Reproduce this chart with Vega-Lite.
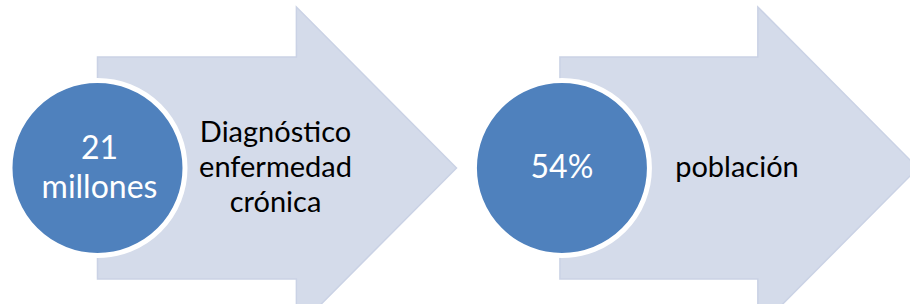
{
  "$schema": "https://vega.github.io/schema/vega-lite/v6.json",
  "width": 910,
  "height": 304,
  "autosize": {"type": "fit", "contains": "padding"},
  "padding": 0,
  "background": "white",
  "config": {"view": {"stroke": null}},
  "datasets": {
    "arrows": [
      {"arrow": "A", "x": 93, "y": 57, "y2": 279},
      {"arrow": "A", "x": 293, "y": 57, "y2": 279},
      {"arrow": "A", "x": 293.01, "y": 7, "y2": 329},
      {"arrow": "A", "x": 454, "y": 168, "y2": 168},
      {"arrow": "B", "x": 558, "y": 57, "y2": 279},
      {"arrow": "B", "x": 757, "y": 57, "y2": 279},
      {"arrow": "B", "x": 757.01, "y": 7, "y2": 329},
      {"arrow": "B", "x": 918, "y": 168, "y2": 168}
    ],
    "circles": [
      {"x": 93, "y": 168},
      {"x": 560, "y": 168}
    ],
    "circleTexts": [
      {"label": "21\nmillones", "x": 95, "y": 149},
      {"label": "54%", "x": 560, "y": 168}
    ],
    "texts": [
      {"label": "Diagnóstico\nenfermedad\ncrónica", "x": 272, "y": 133},
      {"label": "población", "x": 736, "y": 168}
    ]
  },
  "layer": [
    {
      "data": {"name": "arrows"},
      "mark": {"type": "area", "orient": "vertical", "clip": true, "fill": "#D4DBEA", "stroke": "#CAD2E5", "strokeWidth": 1.5, "opacity": 1},
      "encoding": {
        "x": {"field": "x", "type": "quantitative", "scale": {"domain": [0, 910], "nice": false, "zero": false}, "axis": null},
        "y": {"field": "y", "type": "quantitative", "scale": {"domain": [0, 304], "nice": false, "zero": false, "reverse": true}, "axis": null},
        "y2": {"field": "y2"},
        "detail": {"field": "arrow"}
      }
    },
    {
      "data": {"name": "circles"},
      "mark": {"type": "point", "shape": "circle", "filled": true, "fill": "#4F81BD", "stroke": "white", "strokeWidth": 5, "size": 30625, "opacity": 1},
      "encoding": {
        "x": {"field": "x", "type": "quantitative"},
        "y": {"field": "y", "type": "quantitative"}
      }
    },
    {
      "data": {"name": "circleTexts"},
      "mark": {"type": "text", "font": "Lato", "fontSize": 32, "color": "white", "lineBreak": "\n", "lineHeight": 39, "align": "center", "baseline": "middle"},
      "encoding": {
        "x": {"field": "x", "type": "quantitative"},
        "y": {"field": "y", "type": "quantitative"},
        "text": {"field": "label"}
      }
    },
    {
      "data": {"name": "texts"},
      "mark": {"type": "text", "font": "Lato", "fontSize": 29, "color": "black", "lineBreak": "\n", "lineHeight": 35, "align": "center", "baseline": "middle"},
      "encoding": {
        "x": {"field": "x", "type": "quantitative"},
        "y": {"field": "y", "type": "quantitative"},
        "text": {"field": "label"}
      }
    }
  ]
}
